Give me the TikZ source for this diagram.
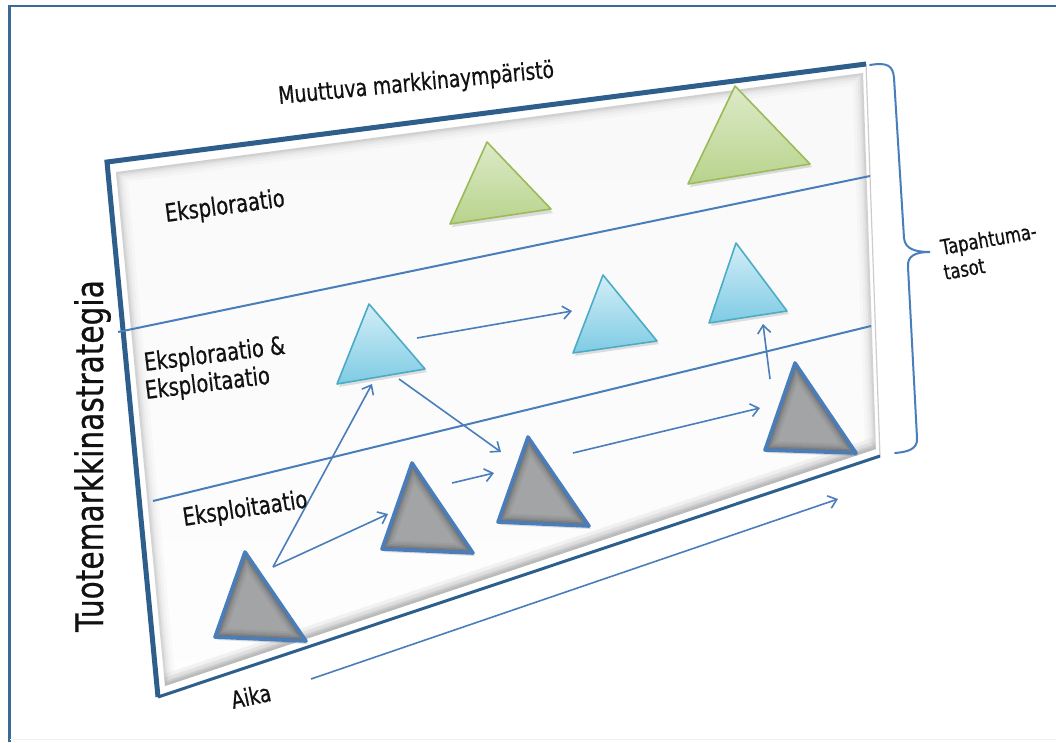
\documentclass[tikz,border=0pt]{standalone}
\usepackage{fontspec}
\newfontfamily\lab{DejaVu Sans}[FakeStretch=0.78, FakeBold=0.6]
\usetikzlibrary{arrows.meta}

\definecolor{frameblue}{HTML}{3A6A96}
\definecolor{edgeblue}{HTML}{2E5E8C}
\definecolor{lineblue}{HTML}{4A7EBB}
\definecolor{trigray}{HTML}{A2A4A6}
\definecolor{grnline}{HTML}{9BBB59}
\definecolor{grntop}{HTML}{DDEAC8}
\definecolor{grnbot}{HTML}{B8D38C}
\definecolor{cyline}{HTML}{4BACC6}
\definecolor{cytop}{HTML}{D3EEF7}
\definecolor{cybot}{HTML}{7ECBE4}
\definecolor{ink}{HTML}{111111}

\tikzset{
  lbl/.style={font=\lab\fontsize{25}{28}\selectfont, text=ink, inner sep=0pt, anchor=base west},
  band/.style={draw=lineblue, line width=2pt},
  arr/.style={draw=lineblue, line width=1.6pt, -{Straight Barb[length=8pt,width=13pt]}},
  greentri/.style={top color=grntop, bottom color=grnbot, draw=grnline, line width=1.6pt, line join=round},
  cyantri/.style={top color=cytop, bottom color=cybot, draw=cyline, line width=1.6pt, line join=round},
  graytri/.style={draw=lineblue, line width=3.6pt, line join=round},
  softshadow/.style={fill=black, opacity=0.12},
}

\begin{document}
\begin{tikzpicture}[x=1pt,y=-1pt]
\useasboundingbox (0,0) rectangle (1056,742);
\fill[white] (0,0) rectangle (1056,742);

% outer frame
\draw[frameblue, line width=2.2pt] (9.5,742) -- (9.5,6) -- (1060,6);
\draw[gray!12, line width=1pt] (9.5,739.5) -- (1056,739.5);

% panel corners
\coordinate (pA) at (107,162);
\coordinate (pB) at (866,64);
\coordinate (pC) at (880,456);
\coordinate (pD) at (158,697);
\coordinate (qA) at (116,172);
\coordinate (qB) at (863,73);
\coordinate (qC) at (876,449);
\coordinate (qD) at (165,686);

% panel surface with a soft bevel
\fill[white] (pA) -- (pB) -- (pC) -- (pD) -- cycle;
\shade[top color=gray!5, bottom color=gray!1] (qA) -- (qB) -- (qC) -- (qD) -- cycle;
\begin{scope}
  \clip (qA) -- (qB) -- (qC) -- (qD) -- cycle;
  \foreach \w/\o in {22/0.02, 16/0.025, 11/0.03, 7/0.04, 4/0.05}{
    \draw[black, opacity=\o, line width=\w pt] (qA) -- (qB) -- (qC) -- (qD) -- cycle;
  }
  \foreach \w/\o in {24/0.03, 16/0.04, 9/0.05}{
    \draw[black, opacity=\o, line width=\w pt] (qD) -- (qC);
  }
\end{scope}
\draw[gray!40, line width=1.2pt] (pB) -- (pC);
\draw[edgeblue, line width=3pt] (pD) -- (pC);
\draw[edgeblue, line width=5pt, line join=miter] (pD) -- (pA) -- (pB);

% band separators
\coordinate (l1a) at (118,332);
\coordinate (l1b) at (870,176);
\coordinate (l2a) at (153,501);
\coordinate (l2b) at (871,326);
\draw[band] (l1a) -- (l1b);
\draw[band] (l2a) -- (l2b);

% exploration triangles
\fill[softshadow] (489,145) -- (553,213) -- (452,227) -- cycle;
\shadedraw[greentri] (487,142) -- (551,209) -- (450,224) -- cycle;
\fill[softshadow] (737,89) -- (812,167) -- (690,187) -- cycle;
\shadedraw[greentri] (735,86) -- (810,164) -- (688,184) -- cycle;

% mixed-mode triangles
\fill[softshadow] (371,307) -- (427,372) -- (339,387) -- cycle;
\shadedraw[cyantri] (369,304) -- (425,369) -- (337,384) -- cycle;
\fill[softshadow] (605,278) -- (659,344) -- (575,356) -- cycle;
\shadedraw[cyantri] (603,275) -- (657,341) -- (573,353) -- cycle;
\fill[softshadow] (738,246) -- (789,314) -- (711,326) -- cycle;
\shadedraw[cyantri] (736,243) -- (787,311) -- (709,323) -- cycle;

% exploitation triangles with soft inner shading
\foreach \ax/\ay/\rx/\ry/\lx/\ly in {245/552/306/641/215/637, 412/463/473/553/382/549, 528/437/589/526/498/522, 795/363/856/453/765/450}{
  \fill[softshadow] (\ax+2,\ay+3) -- (\rx+2,\ry+3) -- (\lx+2,\ly+3) -- cycle;
  \fill[trigray] (\ax,\ay) -- (\rx,\ry) -- (\lx,\ly) -- cycle;
  \begin{scope}
    \clip (\ax,\ay) -- (\rx,\ry) -- (\lx,\ly) -- cycle;
    \foreach \w/\o in {18/0.04, 14/0.05, 10/0.07, 7/0.09, 4/0.12}{
      \draw[black, opacity=\o, line width=\w pt, line join=round] (\ax,\ay) -- (\rx,\ry) -- (\lx,\ly) -- cycle;
    }
  \end{scope}
  \draw[graytri] (\ax,\ay) -- (\rx,\ry) -- (\lx,\ly) -- cycle;
}

% transitions
\coordinate (a1s) at (273,567);
\coordinate (a1e) at (372,384);
\coordinate (a2e) at (388,514);
\coordinate (a3s) at (452,483);
\coordinate (a3e) at (494,473);
\coordinate (a4s) at (399,379);
\coordinate (a4e) at (501,452);
\coordinate (a5s) at (417,338);
\coordinate (a5e) at (572,311);
\coordinate (a6s) at (573,453);
\coordinate (a6e) at (760,408);
\coordinate (a7s) at (770,379);
\coordinate (a7e) at (763,324);
\coordinate (a8s) at (311,679);
\coordinate (a8e) at (838,499);
\draw[arr] (a1s) -- (a1e);
\draw[arr] (a1s) -- (a2e);
\draw[arr] (a3s) -- (a3e);
\draw[arr] (a4s) -- (a4e);
\draw[arr] (a5s) -- (a5e);
\draw[arr] (a6s) -- (a6e);
\draw[arr] (a7s) -- (a7e);
\draw[arr] (a8s) -- (a8e);

% brace spanning the levels
\coordinate (brT) at (870,65);
\coordinate (brM) at (930,252);
\coordinate (brB) at (895,453);
\draw[lineblue, line width=2pt, line cap=round]
  (brT) .. controls (888,62) and (893,66) .. (894,78) -- (904,238)
  .. controls (905,249) and (915,252) .. (brM)
  .. controls (915,252) and (907,256) .. (908,267) -- (917,438)
  .. controls (918,450) and (906,452) .. (brB);

% labels
\node[lbl, font=\lab\fontsize{24}{28}\selectfont, rotate=5.5] (tEnv) at (279,104) {Muuttuva markkinaympäristö};
\node[lbl, rotate=7.5] (tExpl) at (166,222) {Eksploraatio};
\node[lbl, rotate=7] (tMix1) at (145,371) {Eksploraatio \&};
\node[lbl, rotate=7] (tMix2) at (146,399) {Eksploitaatio};
\node[lbl, rotate=8.5] (tExpt) at (184,526) {Eksploitaatio};
\node[lbl, font=\lab\fontsize{24}{28}\selectfont, rotate=12] (tTime) at (233,709) {Aika};
\node[lbl, font=\lab\fontsize{21}{24}\selectfont, rotate=10] (tLev1) at (942,255) {Tapahtuma-};
\node[lbl, font=\lab\fontsize{21}{24}\selectfont, rotate=10] (tLev2) at (945,280) {tasot};
\node[lbl, font=\lab\fontsize{38}{40}\selectfont, rotate=90] (tStrat) at (103,632) {Tuotemarkkinastrategia};
\end{tikzpicture}
\end{document}
